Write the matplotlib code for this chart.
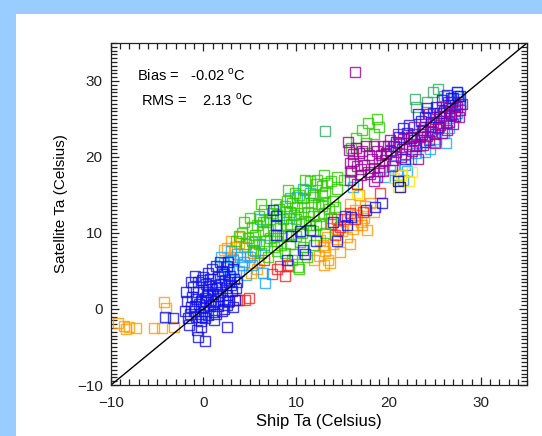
import matplotlib
matplotlib.use("Agg")
import matplotlib.pyplot as plt
from matplotlib.patches import Rectangle
from matplotlib.ticker import MultipleLocator

plt.rcParams['font.family'] = ['Liberation Sans', 'DejaVu Sans']
plt.rcParams['mathtext.fontset'] = 'custom'
plt.rcParams['mathtext.rm'] = 'Liberation Sans'

# ship vs satellite air temperature pairs, grouped by colour (x = ship, y = satellite)
orange_x = [-9.2, -8.6, -8.0, -8.4, -7.3, -5.4, -4.5, -3.2, -4.3, -4.1,
            4.0, 3.4, 2.9, 3.8, 2.6, 3.2, 4.7, 3.0, 5.1, 5.8,
            12.6, 13.2, 13.7, 12.9, 15.9, 16.6, 17.2, 17.7, 13.4, 13.0,
            14.0, 14.8, 15.5, 16.2, 17.0, 12.5, 13.5, 16.8, 17.5,
            4.4, 5.4, 2.2, 6.0, 14.4, 15.0, 16.6, 17.4, 13.0, 15.8,
            12.0, 16.4, 18.0, 18.4]
orange_y = [-1.9, -2.2, -2.4, -2.6, -2.5, -2.5, -2.5, -2.4, 0.9, 0.1,
            9.5, 8.1, 6.9, 8.7, 8.0, 6.6, 7.0, 9.0, 4.8, 5.2,
            9.1, 7.6, 6.1, 8.4, 13.8, 12.4, 11.0, 10.4, 9.5, 8.2,
            8.5, 7.5, 9.5, 10.5, 11.5, 7.0, 6.5, 15.0, 13.6,
            8.2, 7.4, 7.8, 6.2, 9.2, 10.2, 11.0, 12.0, 5.8, 8.6,
            6.4, 13.0, 14.0, 12.8]

red_x = [2.7, 3.6, 4.5, 3.8, 4.9, 8.0, 9.1, 8.3, 9.1, 6.5,
         13.8, 14.6, 15.2, 17.3, 19.1, 14.5, 14.8,
         7.4, 8.8, 15.8, 16.4, 14.2]
red_y = [0.9, 1.2, 1.2, 1.2, 1.5, 5.2, 5.6, 5.6, 5.8, 6.5,
         11.2, 10.4, 11.8, 12.7, 15.3, 11.8, 10.8,
         4.6, 4.4, 12.6, 11.8, 9.8]

lblue_x = [1.9, 2.5, 3.2, 3.8, 4.4, 2.8, 4.6, 3.6, 4.2, 5.0,
           6.4, 6.7, 6.1, 10.1, 11.5, 20.2, 21.0, 22.5, 23.0, 21.8,
           24.5, 24.9, 27.4, 27.4, 16.2, 5.5, 9.3,
           2.2, 3.0, 4.0, 2.0, 5.2, 5.6, 6.6, 20.6, 22.0, 23.4,
           24.0, 25.2, 26.0, 26.6, 27.6, 21.6, 10.8, 9.4, 19.6, 26.2]
lblue_y = [6.8, 5.5, 6.4, 5.0, 6.2, 4.0, 4.5, 7.2, 5.8, 6.8,
           4.8, 3.4, 11.8, 14.7, 15.3, 18.3, 17.6, 19.8, 20.5, 19.0,
           21.0, 22.0, 28.6, 25.8, 16.0, 8.8, 12.0,
           6.0, 7.6, 6.8, 4.6, 5.8, 7.6, 8.4, 19.0, 18.2, 21.4,
           20.6, 22.4, 23.2, 23.8, 27.6, 17.0, 15.8, 14.6, 17.4, 21.8]

yellow_x = [21.4, 22.2, 21.0, 20.6, 22.6, 16.6, 13.9]
yellow_y = [17.6, 16.8, 16.0, 17.2, 18.0, 15.3, 11.5]

green_x = [3.5, 4.2, 4.8, 5.2, 5.6, 6.0, 6.4, 6.8, 7.2, 7.6,
           8.0, 8.3, 8.6, 8.9, 9.2, 9.5, 9.8, 10.1, 10.4, 10.7,
           11.0, 11.3, 11.6, 11.9, 12.2, 12.5, 12.8, 13.1, 13.4, 13.0,
           12.2, 11.5, 10.8, 9.9, 9.0, 8.2, 7.4, 6.6, 6.0, 5.0,
           4.4, 14.0, 14.5, 15.2, 15.8, 13.8, 9.6, 10.2, 8.8, 11.2,
           7.0, 6.2, 12.0, 5.4, 10.3, 16.5, 17.2, 17.8, 18.4, 19.0,
           17.6, 16.0, 18.8,
           7.0, 7.8, 8.5, 9.0, 9.4, 10.0, 10.5, 10.9, 11.4, 11.8,
           12.4, 12.8, 13.2, 12.0, 11.0, 10.3, 9.6, 8.8, 8.0, 7.2,
           6.4, 5.8, 5.2, 6.8, 7.6, 8.4, 9.4, 10.0, 10.6, 11.8,
           12.6, 13.6, 14.2, 13.0, 12.3, 12.8, 11.0, 13.8, 14.4, 6.2,
           7.8, 9.2, 4.6, 3.9, 8.0, 10.8, 9.8, 13.2]
green_y = [9.0, 10.0, 9.3, 10.8, 9.8, 8.6, 10.2, 11.4, 9.4, 8.2,
           9.0, 10.6, 11.8, 12.8, 9.8, 11.2, 12.4, 13.4, 8.8, 10.0,
           11.6, 12.8, 14.0, 15.0, 11.0, 12.2, 13.6, 15.4, 16.6, 17.6,
           16.4, 16.8, 14.6, 15.2, 14.2, 13.2, 12.6, 13.0, 12.2, 12.0,
           11.4, 14.2, 15.8, 17.0, 18.0, 12.0, 6.5, 5.5, 7.4, 6.8,
           6.8, 7.4, 8.4, 7.8, 5.3, 22.5, 23.5, 24.5, 23.0, 24.0,
           21.8, 21.2, 25.0,
           10.4, 11.0, 9.6, 11.0, 12.8, 11.8, 12.6, 13.4, 11.0, 12.2,
           13.8, 15.0, 14.0, 14.8, 15.6, 15.0, 14.0, 13.6, 12.4, 11.8,
           11.4, 11.0, 9.0, 9.0, 9.8, 8.4, 8.6, 9.6, 11.2, 10.2,
           11.2, 13.2, 13.4, 12.6, 17.0, 16.2, 17.0, 16.8, 17.4, 13.8,
           13.8, 15.6, 8.6, 9.6, 7.6, 8.2, 7.2, 10.0]

sgreen_x = [13.2, 22.9, 23.0, 24.8, 25.4, 26.0, 24.2]
sgreen_y = [23.4, 27.6, 26.6, 28.5, 29.0, 28.0, 27.2]

blue_x = [-1.8, -1.2, -0.9, -0.6, -0.3, 0.1, 0.4, 0.6, -1.5, -0.8,
          -0.3, 0.2, 0.7, 1.0, 1.3, -1.1, -0.6, 0.0, 0.5, 1.2,
          1.6, 1.8, 2.0, 2.3, 2.6, 2.9, 2.5, 3.1, 1.6, 2.0,
          2.6, 3.4, 3.0, 0.9, 1.8, -0.7, -0.3, 0.2, -0.6, 1.1,
          -1.6, 2.6, 1.4, 0.7, 0.0, -0.9, -4.2, -3.3, -2.0,
          -1.4, -1.0, -0.5, -0.1, 0.3, 0.8, 1.1, -1.3, -0.2, 0.3,
          0.9, 1.5, 2.1, 2.4, 2.8, 3.3, 3.5, 2.2, 1.4, 2.7,
          3.2, -0.4, 0.5, -1.9, -1.7, 1.0, 0.2, -0.8, 1.9, 2.2,
          3.6, 0.5, -0.2, 1.6, 2.8, 3.2,
          7.8, 7.8, 7.8, 7.5, 9.5, 10.4, 11.5, 10.8, 9.0, 11.0,
          14.5, 15.3, 16.0, 15.5, 19.3, 18.6, 12.2, 14.0, 17.6,
          21.5, 22.5, 23.0, 23.8, 24.5, 25.0, 25.5, 26.0, 26.5, 27.0,
          27.5, 26.8, 27.2, 25.8, 24.8, 23.5, 22.0, 20.8, 20.2, 24.0,
          26.2, 27.8, 21.8,
          22.2, 23.2, 24.2, 25.2, 26.4, 27.4, 27.8, 26.6, 25.6, 24.6,
          23.6, 22.8, 21.2, 20.6, 19.8, 25.4, 26.8, 24.0, 21.6, 27.2]
blue_y = [1.0, 1.6, 0.4, 2.2, 1.0, -0.2, 1.8, 3.0, -0.6, -1.0,
          -1.6, -1.2, 0.4, 2.0, 1.0, 2.9, 3.5, 4.2, 4.8, 3.1,
          4.2, 2.3, 5.0, 3.8, 5.6, 4.4, 1.8, 2.4, 0.4, -0.2,
          0.5, 1.2, 3.2, 5.2, 6.2, -2.8, -2.4, -4.2, -3.7, -1.5,
          -2.1, -2.4, -0.6, 3.9, 2.5, 4.4, -1.0, -1.2, -0.3,
          0.2, -0.3, 0.6, 0.2, 0.9, 1.2, -0.4, 3.6, 3.8, 3.3,
          2.6, 2.8, 1.2, 2.8, 3.6, 4.0, 2.8, 4.6, 5.6, 6.2,
          5.2, -0.6, -0.8, 2.2, -1.2, 0.6, 1.4, 1.3, 3.3, 0.0,
          3.6, 2.2, -1.0, 1.7, 1.0, 0.2,
          12.2, 11.0, 9.8, 13.0, 9.6, 10.2, 10.4, 7.8, 6.4, 7.3,
          9.0, 12.3, 12.1, 11.0, 14.0, 13.4, 9.0, 11.4, 13.0,
          21.0, 22.5, 21.5, 23.5, 24.0, 23.0, 25.2, 26.0, 27.2, 27.8,
          28.0, 25.5, 26.8, 27.5, 25.8, 24.8, 23.2, 22.0, 20.8, 22.0,
          24.5, 27.0, 19.8,
          24.2, 25.6, 26.4, 26.6, 28.2, 28.6, 28.0, 26.4, 25.8, 24.6,
          23.0, 22.2, 22.6, 21.4, 20.4, 24.0, 27.8, 25.2, 23.8, 25.4]

navy_x = [21.0, 21.3]
navy_y = [16.8, 16.0]

purple_x = [16.4, 15.6, 15.7, 16.2, 16.8, 17.4, 17.9, 18.5, 16.0, 17.0,
            18.0, 19.0, 16.5, 17.6, 18.8, 19.4, 15.8, 16.6,
            19.8, 20.5, 21.2, 21.8, 22.4, 23.0, 23.6, 24.2, 24.8, 25.4,
            26.0, 26.6, 27.2, 27.6, 25.8, 24.4, 22.8, 21.0, 20.2, 19.4,
            26.9, 23.2, 25.0,
            16.6, 17.2, 18.2, 18.8, 19.6, 17.0, 15.8, 16.2, 17.8, 18.4,
            19.2, 20.0, 20.8, 21.6, 22.2, 22.8, 23.4, 24.0, 24.6, 25.2,
            25.6, 26.2, 26.8, 27.4, 27.8, 23.8, 22.6, 24.4, 25.8, 26.4,
            21.4, 20.4, 19.0, 27.0, 28.0, 18.4]
purple_y = [31.2, 22.0, 20.9, 19.5, 20.5, 19.0, 20.2, 18.6, 18.2, 17.6,
            17.8, 19.2, 21.2, 21.4, 20.8, 18.2, 17.0, 16.4,
            20.5, 19.6, 21.8, 20.4, 22.6, 21.6, 23.6, 22.8, 24.6, 23.8,
            25.4, 24.6, 26.0, 25.2, 26.6, 25.6, 24.0, 23.0, 22.2, 21.4,
            27.2, 19.8, 21.8,
            18.8, 20.8, 19.8, 17.4, 19.6, 18.4, 19.2, 20.4, 18.0, 21.4,
            20.2, 21.4, 20.6, 22.4, 21.4, 23.0, 22.6, 24.0, 23.4, 25.0,
            24.2, 26.0, 25.6, 26.6, 26.2, 21.6, 20.8, 22.2, 23.2, 23.6,
            20.0, 18.8, 18.2, 24.4, 27.0, 16.8]

bias_text = "Bias =   -0.02 $^{\\mathrm{o}}$C"
rms_text = "RMS =    2.13 $^{\\mathrm{o}}$C"

fig = plt.figure(figsize=(5.42, 4.36), dpi=100)
fig.patch.set_facecolor('#99ccff')
# white panel behind the plot
panel = fig.add_axes([16 / 542, 0, 1 - 16 / 542, 1 - 14 / 436], zorder=0)
panel.set_axis_off()
panel.add_patch(Rectangle((0, 0), 1, 1, transform=panel.transAxes,
                          facecolor='white', edgecolor='none'))

ax = fig.add_axes([111 / 542, 1 - 385 / 436, 416 / 542, 342 / 436], zorder=2)
ax.set_facecolor('white')

groups = [
    (orange_x, orange_y, '#ff9a00'),
    (red_x, red_y, '#ff2222'),
    (lblue_x, lblue_y, '#1ea4ff'),
    (yellow_x, yellow_y, '#ffe600'),
    (green_x, green_y, '#2ec800'),
    (sgreen_x, sgreen_y, '#30aa60'),
    (blue_x, blue_y, '#1010e8'),
    (navy_x, navy_y, '#000090'),
    (purple_x, purple_y, '#990099'),
]
for gx, gy, col in groups:
    ax.plot(gx, gy, linestyle='none', marker='s', markersize=6.8,
            markerfacecolor='none', markeredgecolor=col,
            markeredgewidth=1.0, alpha=0.8)

ax.plot([-10, 35], [-10, 35], color='black', linewidth=1.0)

ax.set_xlim(-10, 35)
ax.set_ylim(-10, 35)
ax.xaxis.set_major_locator(MultipleLocator(10))
ax.yaxis.set_major_locator(MultipleLocator(10))
ax.xaxis.set_minor_locator(MultipleLocator(1))
ax.yaxis.set_minor_locator(MultipleLocator(0.5))
ax.tick_params(which='both', direction='in', top=True, right=True,
               labelsize=11, colors='#222222')
ax.tick_params(which='major', length=6, width=0.9, pad=6)
ax.tick_params(which='minor', length=4, width=0.9)
ax.tick_params(axis='x', which='major', pad=8)
for sp in ax.spines.values():
    sp.set_linewidth(0.9)
    sp.set_color('#222222')

ax.set_xlabel('Ship Ta (Celsius)', fontsize=12, labelpad=3)
ax.set_ylabel('Satellite Ta (Celsius)', fontsize=11, labelpad=6)
ax.yaxis.label.set_y(0.53)

ax.text(0.063, 0.906, bias_text, transform=ax.transAxes, fontsize=10.5,
        va='center', ha='left')
ax.text(0.072, 0.832, rms_text, transform=ax.transAxes, fontsize=10.5,
        va='center', ha='left')

fig.savefig('out.png', dpi=100)
